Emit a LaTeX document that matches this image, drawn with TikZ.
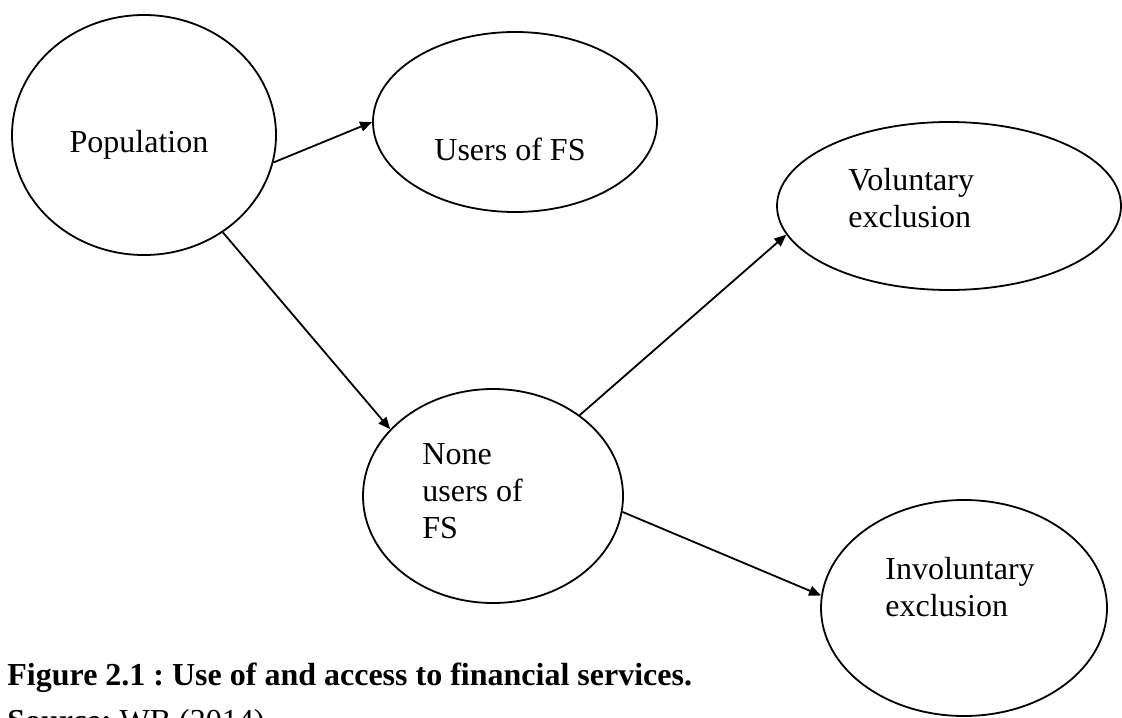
\documentclass[tikz,border=0pt]{standalone}
\usepackage{fontspec}
\setmainfont{Liberation Serif}
\usepackage{tikz}
\usetikzlibrary{shapes.geometric, arrows.meta}
\frenchspacing

\tikzset{
  oval/.style = {ellipse, draw, line width=0.9pt, inner sep=0pt},
  txt/.style = {inner sep=0pt, align=left, font=\fontsize{16}{18.5}\selectfont},
  arr/.style = {line width=0.9pt, -{Triangle[length=6pt, width=5pt]}},
}

\begin{document}
\begin{tikzpicture}[x=0.5pt, y=-0.5pt]
        \useasboundingbox (0, 0) rectangle (1122, 717);
        \node (pop) at (144, 135) [oval, minimum width=132pt, minimum height=120pt] {};
        \node (use) at (515, 122) [oval, minimum width=142pt, minimum height=90pt] {};
        \node (non) at (493, 496) [oval, minimum width=130pt, minimum height=107pt] {};
        \node (vol) at (949, 206) [oval, minimum width=172pt, minimum height=84pt] {};
        \node (inv) at (964, 608) [oval, minimum width=143pt, minimum height=108pt] {};
        % texts, base = last line
        \node (popT) at (139, 152) [txt, anchor=base] {Population};
        \node (useT) at (510, 160) [txt, anchor=base] {Users of FS};
        \node (nonT) at (422, 538) [txt, anchor=base west] {None\\users of\\FS};
        \node (volT) at (848, 227) [txt, anchor=base west] {Voluntary\\exclusion};
        \node (invT) at (885, 616) [txt, anchor=base west] {Involuntary\\exclusion};
        \node (cap) at (7, 731) [txt, anchor=base west] {\textbf{Figure 2.1 : Use of and access to financial services.}\\[4.5pt]\textbf{Source:} WB (2014)};
        \draw [arr] (pop.-12) -- (use.west);
        \draw [arr] (pop.-51) -- (non.147);
        \draw [arr] (non.43) -- (vol.-170);
        \draw [arr] (non.-7) -- (inv.175);
\end{tikzpicture}
\end{document}
